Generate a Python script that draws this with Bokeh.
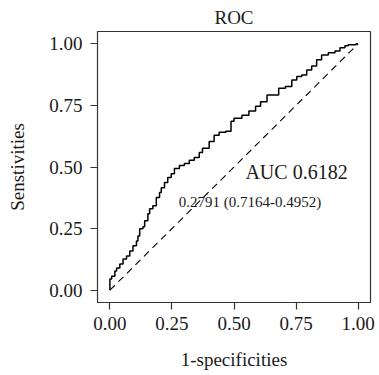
from bokeh.plotting import figure
from bokeh.embed import file_html
from bokeh.resources import INLINE
from bokeh.models import Range1d, FixedTicker, Title
from bokeh.core.properties import value

# ROC curve values
fpr = [0.000, 0.000, 0.007, 0.020, 0.027, 0.040, 0.053, 0.067, 0.080, 0.093,
       0.107, 0.113, 0.120, 0.133, 0.140, 0.153, 0.160, 0.173, 0.187, 0.200,
       0.207, 0.220, 0.233, 0.247, 0.260, 0.280, 0.300, 0.320, 0.340, 0.360,
       0.373, 0.400, 0.420, 0.440, 0.467, 0.488, 0.500, 0.532, 0.560, 0.587,
       0.607, 0.633, 0.653, 0.680, 0.707, 0.733, 0.753, 0.773, 0.793, 0.813,
       0.833, 0.853, 0.880, 0.907, 0.927, 0.947, 0.960, 0.992, 1.000]
tpr = [0.000, 0.016, 0.045, 0.057, 0.078, 0.090, 0.106, 0.127, 0.139, 0.159,
       0.180, 0.200, 0.220, 0.249, 0.257, 0.282, 0.310, 0.331, 0.343, 0.376,
       0.396, 0.416, 0.437, 0.457, 0.473, 0.494, 0.506, 0.514, 0.527, 0.539,
       0.559, 0.576, 0.604, 0.629, 0.641, 0.645, 0.686, 0.698, 0.710, 0.727,
       0.747, 0.765, 0.792, 0.792, 0.820, 0.827, 0.853, 0.867, 0.873, 0.894,
       0.910, 0.935, 0.955, 0.964, 0.971, 0.984, 0.992, 0.996, 1.000]
diag = [0.0, 1.0]
ticks = [0.0, 0.25, 0.5, 0.75, 1.0]
tick_labels = {0.0: "0.00", 0.25: "0.25", 0.5: "0.50", 0.75: "0.75", 1.0: "1.00"}
auc_text = "AUC 0.6182"
thr_text = "0.2791 (0.7164-0.4952)"

FONT = "Liberation Serif"

p = figure(width=379, height=375, output_backend="svg", toolbar_location=None,
           x_range=Range1d(-0.05, 1.05), y_range=Range1d(-0.05, 1.05),
           min_border_left=97, min_border_right=9, min_border_top=31,
           min_border_bottom=73)
p.title = Title(text="ROC", align="center", text_font=FONT,
                text_font_size="19px", text_font_style="normal",
                text_color="#1a1a1a", standoff=8)
p.background_fill_color = "white"
p.border_fill_color = "white"
p.outline_line_color = "#333333"
p.outline_line_width = 1.2
p.xgrid.visible = False
p.ygrid.visible = False

for ax in (p.xaxis[0], p.yaxis[0]):
    ax.ticker = FixedTicker(ticks=ticks)
    ax.major_label_overrides = tick_labels
    ax.axis_line_color = None
    ax.major_tick_in = 0
    ax.major_tick_out = 7
    ax.major_tick_line_color = "#333333"
    ax.major_tick_line_width = 1.2
    ax.minor_tick_line_color = None
    ax.major_label_text_font = FONT
    ax.major_label_text_font_size = "19px"
    ax.major_label_text_color = "#1a1a1a"
    ax.axis_label_text_font = FONT
    ax.axis_label_text_font_size = "19px"
    ax.axis_label_text_font_style = "normal"
    ax.axis_label_text_color = "#1a1a1a"

p.xaxis.axis_label = "1-specificities"
p.yaxis.axis_label = "Senstivities"
p.xaxis.major_label_standoff = 7
p.yaxis.major_label_standoff = 8
p.xaxis.axis_label_standoff = 16
p.yaxis.axis_label_standoff = 18

p.line(diag, diag, line_color="black", line_width=1.1, line_dash="7 5")
p.step(fpr, tpr, mode="before", line_color="black", line_width=1.5)

p.text(x=[0.752], y=[0.48], text=[auc_text], text_font=value(FONT),
       text_font_size="20px", text_align="center", text_baseline="middle",
       text_color="#1a1a1a")
p.text(x=[0.564], y=[0.356], text=[thr_text], text_font=value(FONT),
       text_font_size="15px", text_align="center", text_baseline="middle",
       text_color="#1a1a1a")

open("out.html", "w").write(file_html(p, INLINE))
